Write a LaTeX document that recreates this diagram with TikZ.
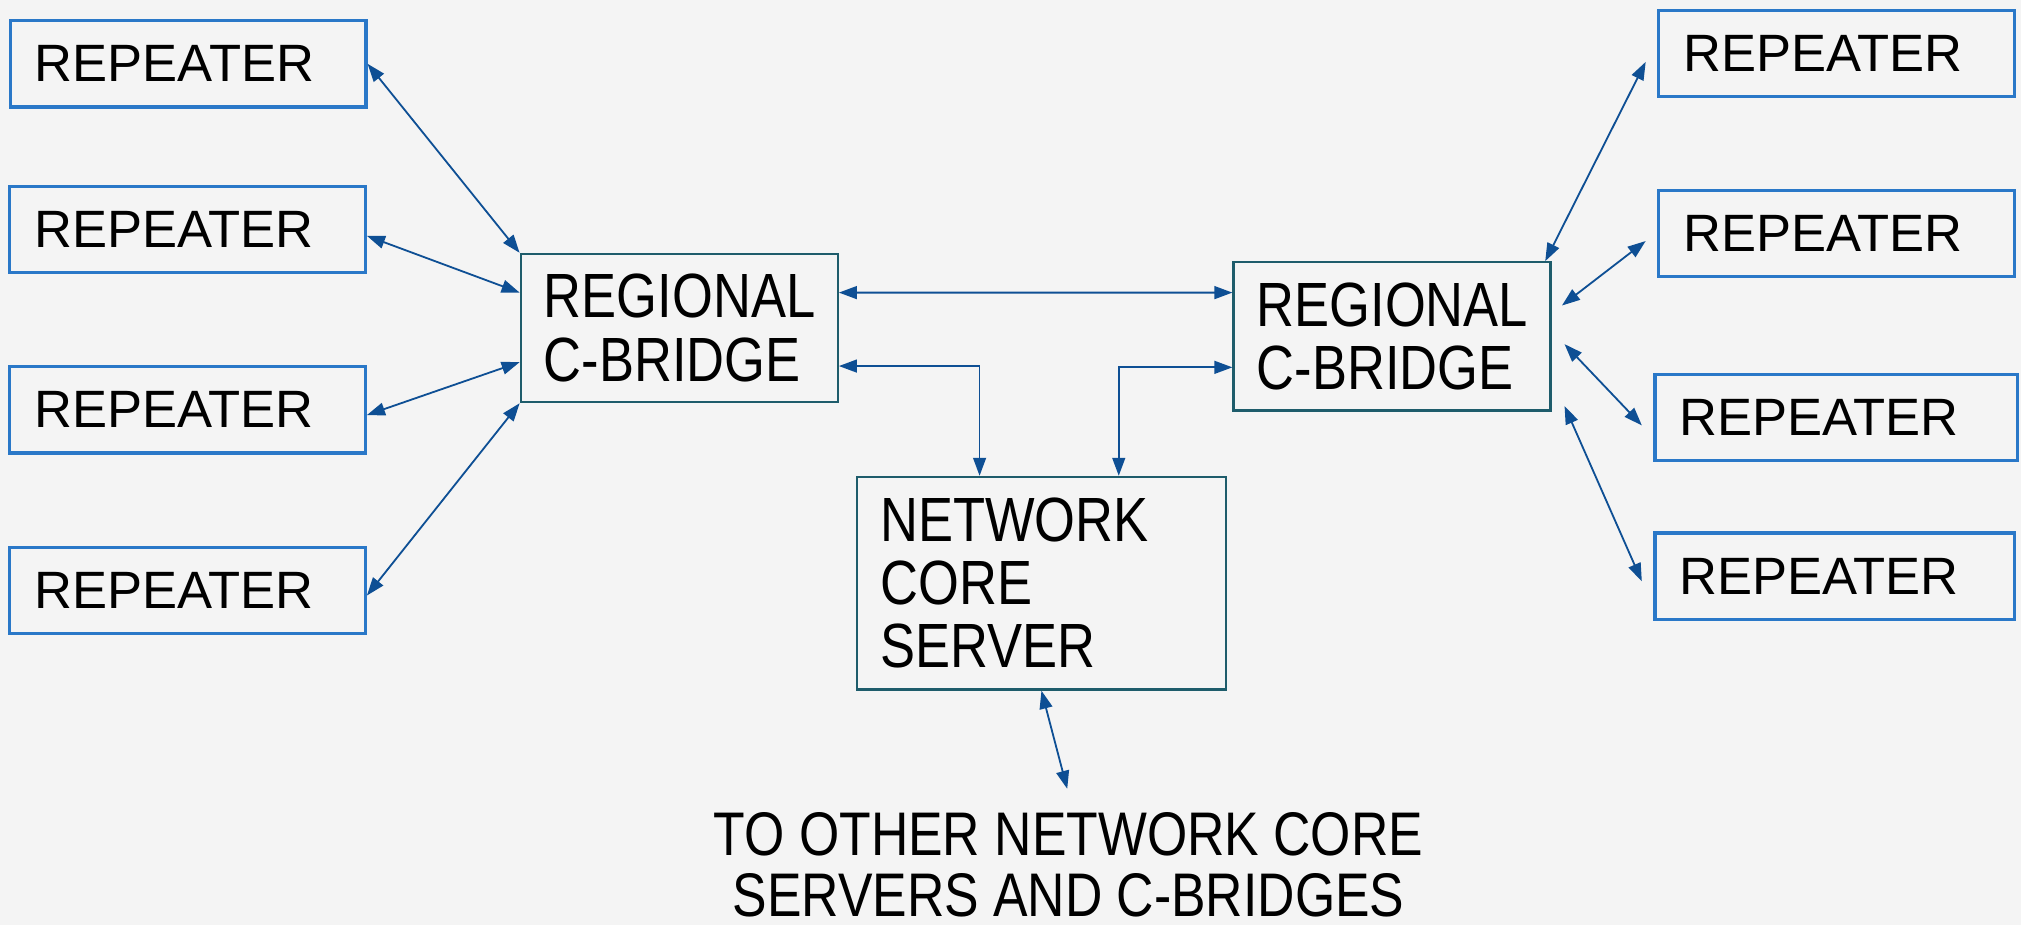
\documentclass[tikz,border=0pt]{standalone}
\usepackage{fontspec}
\setmainfont{Liberation Sans}
\newfontfamily\narrowsans[FakeStretch=0.84]{Liberation Sans}
\usetikzlibrary{arrows.meta}
\definecolor{repblue}{HTML}{2A78C8}
\definecolor{boxteal}{HTML}{1E5C6B}
\definecolor{linkblue}{HTML}{0E4F94}
\definecolor{paper}{HTML}{F4F4F4}
\begin{document}
\begin{tikzpicture}[x=0.02cm, y=-0.02cm,
    repeater/.style={draw=repblue, line width=1.4pt, minimum height=1.34cm,
      text width=4.76cm, inner xsep=0.38cm, inner ysep=0pt, align=left,
      font=\fontsize{23.2}{24}\selectfont},
    bridge/.style={draw=boxteal, line width=1pt, minimum height=2.3cm,
      text width=4.2cm, inner xsep=0.36cm, align=left,
      font=\narrowsans\fontsize{27.6}{27.9}\selectfont},
    link/.style={draw=linkblue, line width=0.8pt,
      {Triangle[length=0.28cm, width=0.2cm]}-{Triangle[length=0.28cm, width=0.2cm]}}]
  \fill[paper] (0,0) rectangle (1568,718);
  \useasboundingbox (0,0) rectangle (1568,718);
  \draw
    (146,49.5) node[repeater] (l1) {REPEATER}
    (145.5,178) node[repeater] (l2) {REPEATER}
    (145.5,318) node[repeater] (l3) {REPEATER}
    (145.5,458) node[repeater] (l4) {REPEATER}
    (1425,41.5) node[repeater] (r1) {REPEATER}
    (1425,181) node[repeater] (r2) {REPEATER}
    (1424.5,324) node[repeater, text width=4.86cm] (r3) {REPEATER}
    (1423.5,447) node[repeater, text width=4.82cm] (r4) {REPEATER}
    (527,254.5) node[bridge] (lb) {REGIONAL\\C-BRIDGE}
    (1080,261) node[bridge] (rb) {REGIONAL\\C-BRIDGE}
    (808,452.5) node[bridge, text width=5cm, minimum height=3.3cm] (ncs) {NETWORK\\CORE\\SERVER}
    (829,630) node[anchor=north, inner sep=0pt, align=center,
      font=\narrowsans\fontsize{27.2}{26.8}\selectfont] (others)
      {TO OTHER NETWORK CORE\\SERVERS AND C-BRIDGES};
  \coordinate (toothers) at (828,612);
  \begin{scope}[link]
    \draw (l1.east) -- (lb.north west);
    \draw ([yshift=-0.1cm]l2.east) -- ([yshift=0.55cm]lb.west);
    \draw ([yshift=-0.08cm]l3.east) -- ([yshift=-0.53cm]lb.west);
    \draw ([yshift=-0.08cm]l4.east) -- (lb.south west);
    \draw ([yshift=0.55cm]lb.east) -- ([yshift=0.68cm]rb.west);
    \draw ([yshift=-0.59cm]lb.east) -| ([xshift=-0.96cm]ncs.north);
    \draw ([yshift=-0.48cm]rb.west) -| ([xshift=1.2cm]ncs.north);
    \draw ([xshift=-0.1cm]rb.north east) -- ([xshift=-0.18cm, yshift=-0.13cm]r1.west);
    \draw ([xshift=0.16cm, yshift=0.48cm]rb.east) -- ([xshift=-0.18cm, yshift=-0.12cm]r2.west);
    \draw ([xshift=0.2cm, yshift=-0.12cm]rb.east) -- ([xshift=-0.18cm, yshift=-0.12cm]r3.west);
    \draw ([xshift=0.2cm, yshift=-1.08cm]rb.east) -- ([xshift=-0.18cm, yshift=-0.08cm]r4.west);
    \draw (ncs.south) -- (toothers);
  \end{scope}
\end{tikzpicture}
\end{document}
